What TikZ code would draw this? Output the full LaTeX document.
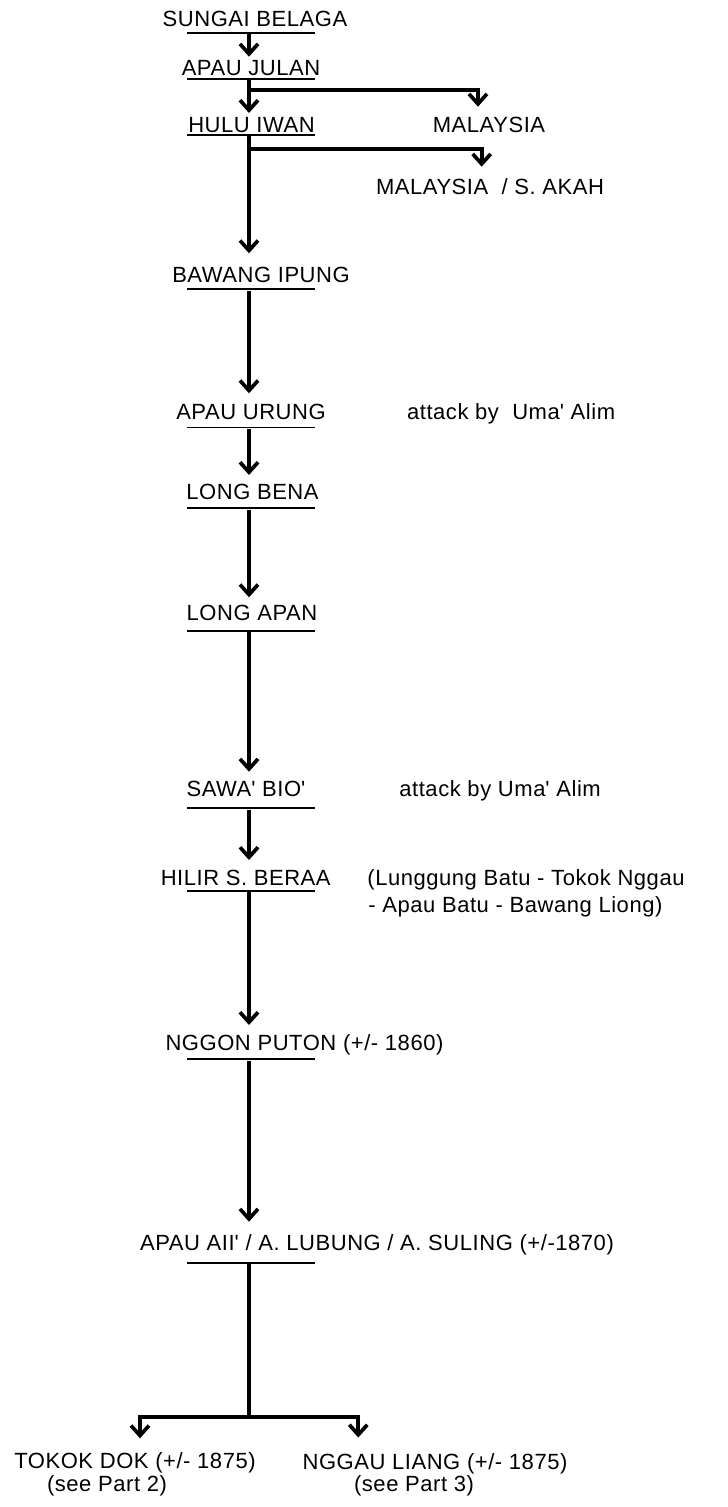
\documentclass[tikz,border=0pt]{standalone}
\usepackage{fontspec}
\setmainfont{Liberation Sans}[LetterSpace=2.5]
\usetikzlibrary{arrows.meta}
\newcommand{\apos}{\textquotesingle}

\begin{document}
\begin{tikzpicture}[
    x=0.5pt, y=-0.5pt,
    place/.style={anchor=base, inner sep=0pt, font=\fontsize{11}{13}\selectfont},
    note/.style={place, anchor=base west},
    uline/.style={fill, minimum width=64pt, minimum height=0.9pt, inner sep=0pt},
    line/.style={line width=1.85pt},
    arrow/.style={line, -{Straight Barb[length=5pt,width=9pt]}}
]
\useasboundingbox (0,0) rectangle (727,1507);

% stations
\node[place] (sungai) at (255,27) {SUNGAI BELAGA};
\node[uline] (u1) at (251,32.7) {};
\node[place] (apaujulan) at (251,76) {APAU JULAN};
\node[uline] (u2) at (251,79) {};
\node[place] (huluiwan) at (251.5,133) {HULU IWAN};
\node[uline] (u3) at (251,135) {};
\node[place] (malaysiaA) at (489,133) {MALAYSIA};
\node[place] (malaysiaB) at (490,195) {MALAYSIA\ \ / S. AKAH};
\node[place] (bawang) at (261,283) {BAWANG IPUNG};
\node[uline] (u4) at (251,289.3) {};
\node[place] (apauurung) at (251,420) {APAU URUNG};
\node[uline] (u5) at (251,427.5) {};
\node[place] (longbena) at (252.5,500) {LONG BENA};
\node[uline] (u6) at (251,508.3) {};
\node[place] (longapan) at (252,620) {LONG APAN};
\node[uline] (u7) at (251,630.7) {};
\node[place] (sawabio) at (246,796.7) {SAWA\apos{} BIO\apos};
\node[uline] (u8) at (251,808.3) {};
\node[place] (hilir) at (245.7,885) {HILIR S. BERAA};
\node[uline] (u9) at (251,891) {};
\node[place] (nggon) at (304.5,1050) {NGGON PUTON (+/- 1860)};
\node[uline] (u10) at (251,1059.3) {};
\node[place] (apauaii) at (377,1250) {APAU AII\apos{} / A. LUBUNG / A. SULING (+/-1870)};
\node[uline] (u11) at (251,1262.7) {};
\node[place] (tokok) at (135,1468) {TOKOK DOK (+/- 1875)};
\node[place] (tokokref) at (107,1491) {(see Part 2)};
\node[place] (nggau) at (435,1469) {NGGAU LIANG (+/- 1875)};
\node[place] (nggauref) at (414,1491) {(see Part 3)};

% notes
\node[note] (attackA) at (406.7,420) {attack by\ \ Uma\apos{} Alim};
\node[note] (attackB) at (399,796.7) {attack by Uma\apos{} Alim};
\node[note] (routeA) at (367,885) {(Lunggung Batu - Tokok Nggau};
\node[note] (routeB) at (368,912) {- Apau Batu - Bawang Liong)};

% arrow tips and branch points
\coordinate (t2) at (249,56.7);
\coordinate (t3) at (249,113);
\coordinate (t4) at (249,253.3);
\coordinate (t5) at (249,393.3);
\coordinate (t6) at (249,475);
\coordinate (t7) at (249,597.3);
\coordinate (t8) at (249,771.7);
\coordinate (t9) at (249,860);
\coordinate (t10) at (249,1025);
\coordinate (t11) at (249,1221.7);
\coordinate (b1) at (249,90);
\coordinate (m1) at (478,106.7);
\coordinate (b2) at (249,149);
\coordinate (m2) at (481.7,166.7);
\coordinate (fork) at (249,1416.7);
\coordinate (tl) at (140,1438.3);
\coordinate (tr) at (358.3,1437.5);

\draw[arrow] (u1.south -| t2) -- (t2);
\draw[arrow] (u2.south -| t3) -- (t3);
\draw[arrow] (u3.south -| t4) -- (t4);
\draw[arrow] (u4.south -| t5) -- (t5);
\draw[arrow] (u5.south -| t6) -- (t6);
\draw[arrow] (u6.south -| t7) -- (t7);
\draw[arrow] (u7.south -| t8) -- (t8);
\draw[arrow] (u8.south -| t9) -- (t9);
\draw[arrow] (u9.south -| t10) -- (t10);
\draw[arrow] (u10.south -| t11) -- (t11);
\draw[arrow] (b1) -| (m1);
\draw[arrow] (b2) -| (m2);
\draw[line] (u11.south -| fork) -- (fork);
\draw[arrow] (fork) -| (tl);
\draw[arrow] (fork) -| (tr);

\end{tikzpicture}
\end{document}
